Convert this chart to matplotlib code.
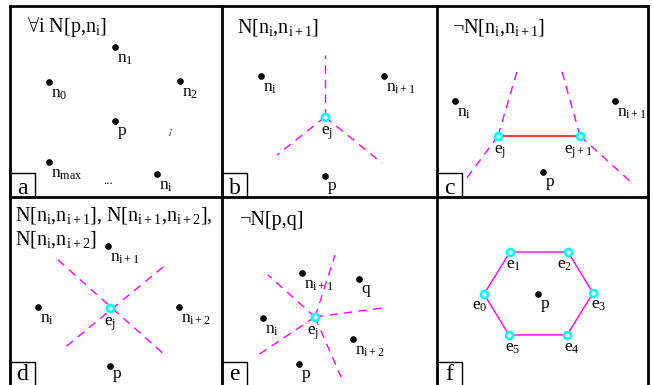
import matplotlib
matplotlib.use('Agg')
import matplotlib.pyplot as plt
from matplotlib.patches import Rectangle

plt.rcParams['font.family'] = ['Liberation Serif', 'DejaVu Serif']
plt.rcParams['mathtext.fontset'] = 'custom'
plt.rcParams['mathtext.rm'] = 'Liberation Serif'
plt.rcParams['mathtext.it'] = 'Liberation Serif:italic'
plt.rcParams['mathtext.bf'] = 'Liberation Serif:bold'
plt.rcParams['mathtext.fallback'] = 'cm'

fontsz = 12.5
titlesz = 14.5
MAG = '#ff00ff'
CYAN = '#00ffff'

# grid of panels (pixel coords)
col_x = [10, 222, 437, 648]
row_y = [6, 197, 386]
letters = ['a', 'b', 'c', 'd', 'e', 'f']

# titles
titles = [
    ('$\\forall$i N[p,$\\mathrm{n_i}$]', 27, 32),
    ('N[$\\mathrm{n_i}$,$\\mathrm{n_{i+1}}$]', 237, 32),
    ('¬N[$\\mathrm{n_i}$,$\\mathrm{n_{i+1}}$]', 452, 33),
    ('N[$\\mathrm{n_i}$,$\\mathrm{n_{i+1}}$], N[$\\mathrm{n_{i+1}}$,$\\mathrm{n_{i+2}}$],', 15, 220),
    ('N[$\\mathrm{n_i}$,$\\mathrm{n_{i+2}}$]', 15, 245),
    ('¬N[p,q]', 240, 225),
]

# panel a: points
a_x = [115, 49, 180, 115, 49, 157]
a_y = [47, 82, 81, 121, 162, 174]
a_lab = ['n_1', 'n_0', 'n_2', 'p', 'n_{max}', 'n_i']

# panel b
b_x = [261, 384, 325]
b_y = [76, 76, 176]
b_lab = ['n_i', 'n_{i+1}', 'p']
b_e = (325, 117)
b_ray_x = [325, 277, 382]
b_ray_y = [55, 155, 163]

# panel c
c_x = [455, 615, 543]
c_y = [101, 101, 172]
c_lab = ['n_i', 'n_{i+1}', 'p']
c_e1 = (498, 136)
c_e2 = (580, 136)
c_ray1_x = [518, 463]
c_ray1_y = [68, 183]
c_ray2_x = [561, 632]
c_ray2_y = [68, 183]

# panel d
d_x = [108, 38, 179, 110]
d_y = [246, 307, 307, 366]
d_lab = ['n_{i+1}', 'n_i', 'n_{i+2}', 'p']
d_e = (110, 308)
d_ray_x = [58, 167, 163, 63]
d_ray_y = [260, 357, 267, 349]

# panel e
e_x = [302, 359, 263, 353, 299]
e_y = [273, 279, 318, 339, 364]
e_lab = ['n_{i+1}', 'q', 'n_i', 'n_{i+2}', 'p']
e_e = (315, 317)
e_ray_x = [268, 335, 382, 341, 258]
e_ray_y = [275, 255, 308, 377, 355]

# panel f: hexagon
f_hx = [484, 510, 568, 593, 567, 509]
f_hy = [294, 252, 252, 293, 335, 335]
f_lab = ['e_0', 'e_1', 'e_2', 'e_3', 'e_4', 'e_5']
f_off = [(-4, 4), (4, 5), (-3, 5), (6, 4), (5, 5), (4, 5)]
f_p = (538, 294)


def m(s):
    return '$\\mathrm{' + s + '}$'


def dot(ax, x, y, lab, dy=4):
    ax.plot(x, y, 'o', color='black', ms=3.8, zorder=5)
    ax.text(x + 2, y + dy, m(lab), fontsize=fontsz, ha='left', va='top', zorder=6)


def edge(ax, x, y, lab, dx=1, dy=6):
    ax.plot(x, y, 'o', mfc='white', mec=CYAN, ms=5, mew=1.9, zorder=5)
    ax.text(x + dx, y + dy, m(lab), fontsize=fontsz, ha='center', va='top', zorder=6)


def rays(ax, cx, cy, xs, ys):
    for x, y in zip(xs, ys):
        ax.plot([cx, x], [cy, y], color=MAG, lw=1, dashes=(6, 4.5), zorder=2)


fig = plt.figure(figsize=(6.53, 3.85), dpi=100)
ax = fig.add_axes([0, 0, 1, 1])
ax.set_xlim(0, 653)
ax.set_ylim(385, 0)
ax.axis('off')

# frames
for x in col_x:
    ax.plot([x, x], [row_y[0], row_y[-1]], color='black', lw=2, solid_capstyle='projecting')
for y in row_y:
    ax.plot([col_x[0], col_x[-1]], [y, y], color='black', lw=2, solid_capstyle='projecting')

# letter boxes
k = 0
for r in range(2):
    for c in range(3):
        x0 = col_x[c]
        yb = row_y[r + 1] if r == 0 else 386
        ax.add_patch(Rectangle((x0, yb - 24), 25, 24, fill=False, lw=1, ec='black'))
        if r == 0:
            ax.text(x0 + 12.5, yb - 3, letters[k], fontsize=17, ha='center', va='baseline')
        else:
            ax.text(x0 + 12.5, 384.5, letters[k], fontsize=17, ha='center', va='bottom')
        k += 1

for t, x, y in titles:
    ax.text(x, y, t, fontsize=titlesz, ha='left', va='baseline')

# a
for x, y, l in zip(a_x, a_y, a_lab):
    dot(ax, x, y, l)
ax.text(108, 181, '...', fontsize=9, ha='center', va='center')
ax.text(168, 131, '...', fontsize=9, ha='center', va='center', rotation=75)

# b
rays(ax, b_e[0], b_e[1], b_ray_x, b_ray_y)
for x, y, l in zip(b_x, b_y, b_lab):
    dot(ax, x, y, l)
edge(ax, b_e[0], b_e[1], 'e_j', 2, 7)

# c
rays(ax, c_e1[0], c_e1[1], c_ray1_x, c_ray1_y)
rays(ax, c_e2[0], c_e2[1], c_ray2_x, c_ray2_y)
ax.plot([c_e1[0], c_e2[0]], [c_e1[1], c_e2[1]], color='red', lw=1.1, zorder=3)
for x, y, l in zip(c_x, c_y, c_lab):
    dot(ax, x, y, l)
edge(ax, c_e1[0], c_e1[1], 'e_j', 2, 7)
edge(ax, c_e2[0], c_e2[1], 'e_{j+1}', -1, 7)

# d
ax.plot([d_ray_x[0], d_ray_x[1]], [d_ray_y[0], d_ray_y[1]], color=MAG, lw=1, dashes=(6, 4.5), zorder=2)
ax.plot([d_ray_x[2], d_ray_x[3]], [d_ray_y[2], d_ray_y[3]], color=MAG, lw=1, dashes=(6, 4.5), zorder=2)
for x, y, l in zip(d_x, d_y, d_lab):
    dot(ax, x, y, l, dy=2 if l == 'p' else 4)
edge(ax, d_e[0], d_e[1], 'e_j', 0, 7)

# e
rays(ax, e_e[0], e_e[1], e_ray_x, e_ray_y)
for x, y, l in zip(e_x, e_y, e_lab):
    dot(ax, x, y, l)
edge(ax, e_e[0], e_e[1], 'e_j', -2, 7)

# f
ax.plot(f_hx + f_hx[:1], f_hy + f_hy[:1], color=MAG, lw=1, zorder=2)
for x, y, l, (dx, dy) in zip(f_hx, f_hy, f_lab, f_off):
    edge(ax, x, y, l, dx, dy)
dot(ax, f_p[0], f_p[1], 'p')

fig.savefig('out.png', dpi=100)
